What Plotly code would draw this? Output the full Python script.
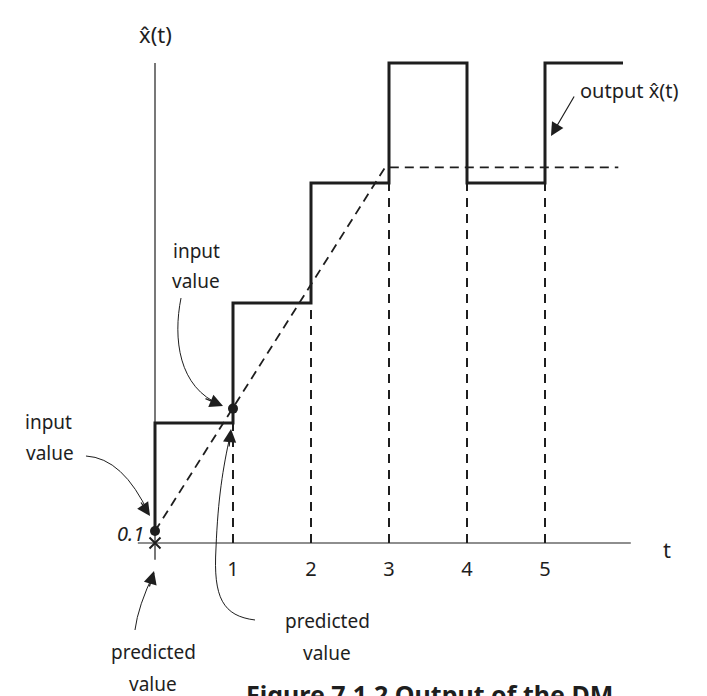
import plotly.graph_objects as go

# delta modulation example: staircase output vs. ramp input
step_t = [0, 0, 1, 2, 3, 4, 5, 6]
step_xhat = [0.1, 1, 2, 3, 4, 3, 4, 4]

input_t = [0, 2.95, 5.94]
input_x = [0.1, 3.13, 3.13]

sample_t = [0, 1]
sample_x = [0.1, 1.12]

pred_t = [0]
pred_x = [0]

grid_t = [1, 2, 3, 4, 5]
grid_top = [1, 2, 3, 3, 3]
tick_labels = ["1", "2", "3", "4", "5"]

W, H = 707, 696
X0, DX = 147, 78      # pixel of t=0, pixels per unit t
Y0, DY = 535, 120     # pixel of x=0, pixels per unit x

FONT = "Noto Sans"
INK = "#1e1e1e"


def px(x, y):
    # pixel position -> paper coords
    return x / W, 1 - y / H


def path(*pts):
    s = ""
    for cmd, p in pts:
        x, y = px(*p)
        s += "%s %.4f,%.4f " % (cmd, x, y)
    return s


fig = go.Figure()

# axes
fig.add_trace(go.Scatter(x=[0, 0], y=[-0.14, 4.0], mode="lines",
                         line=dict(color=INK, width=1.2)))
fig.add_trace(go.Scatter(x=[-0.22, 6.1], y=[0, 0], mode="lines",
                         line=dict(color=INK, width=1.2)))

# dashed verticals at sample instants
gx, gy = [], []
for t, top in zip(grid_t, grid_top):
    gx += [t, t, None]
    gy += [0, top, None]
fig.add_trace(go.Scatter(x=gx, y=gy, mode="lines",
                         line=dict(color=INK, width=2, dash="9px,7px")))

# input signal (dashed)
fig.add_trace(go.Scatter(x=input_t, y=input_x, mode="lines",
                         line=dict(color=INK, width=1.8, dash="9px,6px")))

# staircase output
fig.add_trace(go.Scatter(x=step_t, y=step_xhat, mode="lines", line_shape="hv",
                         line=dict(color=INK, width=3)))

# samples and prediction
fig.add_trace(go.Scatter(x=sample_t, y=sample_x, mode="markers",
                         marker=dict(color=INK, size=10)))
fig.add_trace(go.Scatter(x=pred_t, y=pred_x, mode="markers",
                         marker=dict(symbol="x-thin", size=11,
                                     line=dict(color=INK, width=2))))

# tick labels
fig.add_trace(go.Scatter(x=grid_t, y=[-0.23] * len(grid_t), mode="text",
                         text=tick_labels,
                         textfont=dict(family=FONT, size=20, color=INK)))


def label(text, x, y, size=19, anchor="center", **kw):
    ax, ay = px(x, y)
    fig.add_annotation(x=ax, y=ay, xref="paper", yref="paper", text=text,
                       showarrow=False, xanchor=anchor, yanchor="middle",
                       font=dict(family=FONT, size=size, color=INK), **kw)


def arrowhead(tip, frm):
    x, y = px(*tip)
    fig.add_annotation(x=x, y=y, xref="paper", yref="paper", text="",
                       showarrow=True, arrowhead=2, arrowsize=2.2,
                       arrowwidth=1.2, arrowcolor=INK,
                       ax=frm[0] - tip[0], ay=frm[1] - tip[1])


label("x\u0302(t)", 147, 26, size=22)
label("t", 659, 541, size=22)
label("<i>0.1</i>", 138, 525, size=20, anchor="right")
label("output x\u0302(t)", 570, 83, size=20, anchor="left")
label("input", 188, 243)
label("value", 188, 273)
label("input", 40, 414)
label("value", 42, 445)
label("predicted", 145, 644)
label("value", 145, 676)
label("predicted", 319, 613)
label("value", 319, 645)
label("<b>Figure 7.1.2 Output of the DM</b>", 236, 686, size=25, anchor="left")

# curved arrows
curves = [
    path(("M", (173, 290)), ("C", (165, 330)), ("", (170, 380)), ("", (213, 397))),
    path(("M", (78, 448)), ("Q", (115, 450)), ("", (141, 506))),
    path(("M", (127, 622)), ("Q", (130, 598)), ("", (146, 565))),
    path(("M", (247, 612)), ("C", (215, 608)), ("", (205, 590)), ("", (208, 540)),
         ("C", (210, 490)), ("", (215, 460)), ("", (222, 428))),
]
for p in curves:
    fig.add_shape(type="path", path=p, xref="paper", yref="paper",
                  line=dict(color=INK, width=1))

arrowhead((215, 398), (196, 390))
arrowhead((142, 508), (132, 493))
arrowhead((146, 563), (141, 580))
arrowhead((223, 421), (221, 440))
arrowhead((543, 128), (567, 87))

fig.update_layout(
    width=W, height=H,
    margin=dict(l=0, r=0, t=0, b=0),
    paper_bgcolor="white", plot_bgcolor="white",
    showlegend=False,
    xaxis=dict(visible=False, range=[-X0 / DX, (W - X0) / DX]),
    yaxis=dict(visible=False, range=[(Y0 - H) / DY, Y0 / DY]),
)

fig.write_html("out.html")
